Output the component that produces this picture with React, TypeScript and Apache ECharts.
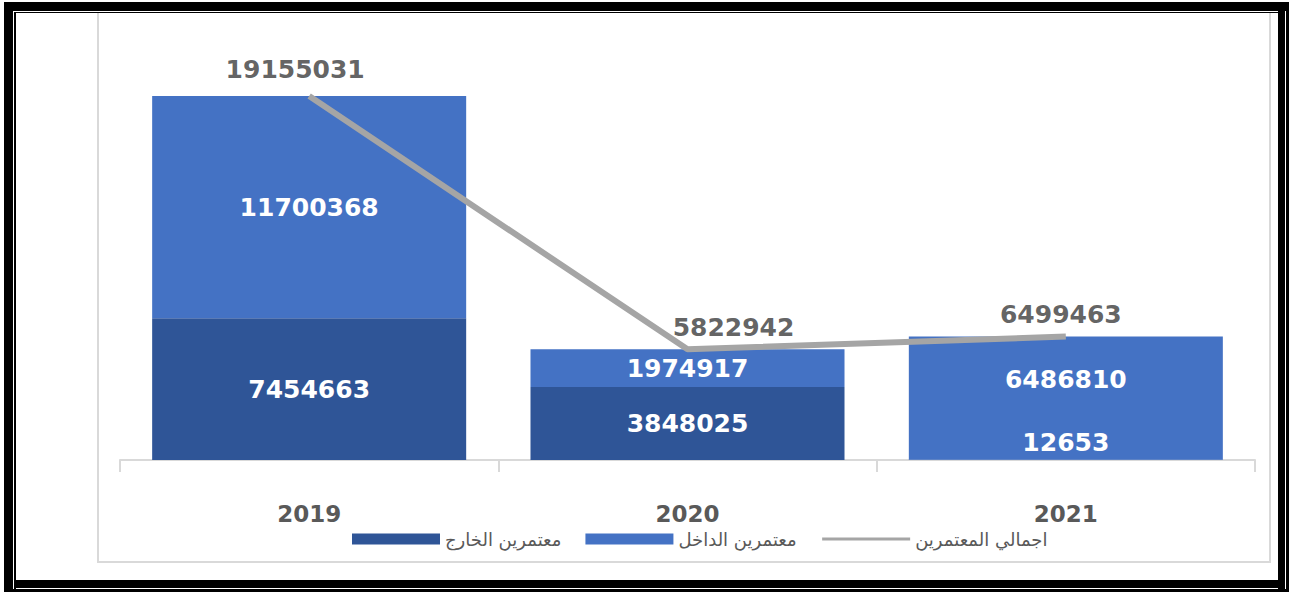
import React, { useEffect, useRef } from "react";
import * as echarts from "echarts";

const years = ["2019", "2020", "2021"];
const abroad = [7454663, 3848025, 12653];
const domestic = [11700368, 1974917, 6486810];
const total = [19155031, 5822942, 6499463];
const seriesNames = ["معتمرين الخارج", "معتمرين الداخل", "اجمالي المعتمرين"];

const DARK = "#2F5597";
const LIGHT = "#4472C4";
const LINE = "#A5A5A5";
const NUMFONT = "DejaVu Sans";

export default function App() {
  const ref = useRef<HTMLDivElement>(null);
  useEffect(() => {
    if (!ref.current) return;
    const chart = echarts.init(ref.current, null, { renderer: "svg" });
    const barLabel = {
      show: true,
      position: "inside",
      color: "#ffffff",
      fontFamily: NUMFONT,
      fontWeight: "bold",
      fontSize: 25,
    };
    const abroadData = abroad.map((v, i) =>
      i === 2 ? { value: v, label: { offset: [0, -17] } } : v
    );
    const domesticData = domestic.map((v, i) =>
      i === 2 ? { value: v, label: { offset: [0, -19] } } : v
    );
    const lineOffsets = [
      [-14, 0],
      [46, 5],
      [-5, 5],
    ];
    const totalLabelData = total.map((v, i) => ({
      value: v,
      label: { offset: lineOffsets[i] },
    }));
    const black = "#000000";
    const frame = [
      { type: "rect", shape: { x: 4, y: 2, width: 1285, height: 9 } },
      { type: "rect", shape: { x: 14, y: 12, width: 1264, height: 1 } },
      { type: "rect", shape: { x: 4, y: 2, width: 9, height: 590 } },
      { type: "rect", shape: { x: 14, y: 12, width: 2, height: 577 } },
      { type: "rect", shape: { x: 1278, y: 2, width: 7, height: 587 } },
      { type: "rect", shape: { x: 1286, y: 2, width: 3, height: 590 } },
      { type: "rect", shape: { x: 14, y: 580, width: 1271, height: 8 } },
      { type: "rect", shape: { x: 4, y: 589, width: 1285, height: 3 } },
    ].map((r) => ({ ...r, silent: true, style: { fill: black } }));

    chart.setOption({
      animation: false,
      backgroundColor: "#ffffff",
      graphic: [
        {
          type: "polyline",
          silent: true,
          shape: {
            points: [
              [98, 13],
              [98, 562],
              [1270, 562],
              [1270, 13],
            ],
          },
          style: { stroke: "#D9D9D9", lineWidth: 2, fill: null },
        },
        ...frame,
      ],
      grid: { left: 120, right: 36, top: 80, bottom: 133 },
      legend: {
        left: 352,
        top: 530,
        padding: 0,
        itemWidth: 88,
        itemHeight: 11,
        itemGap: 24,
        textStyle: { color: "#595959", fontSize: 18, fontFamily: "DejaVu Sans" },
        data: [
          { name: seriesNames[0], icon: "rect" },
          { name: seriesNames[1], icon: "rect" },
          {
            name: seriesNames[2],
            itemStyle: { opacity: 0 },
            lineStyle: { width: 3, color: LINE, opacity: 1 },
          },
        ],
      },
      xAxis: {
        type: "category",
        data: years,
        axisLine: { lineStyle: { color: "#D9D9D9", width: 2 } },
        axisTick: { show: true, length: 12, lineStyle: { color: "#D9D9D9", width: 2 } },
        axisLabel: {
          margin: 42,
          color: "#595959",
          fontFamily: NUMFONT,
          fontWeight: "bold",
          fontSize: 23,
        },
      },
      yAxis: {
        type: "value",
        min: 0,
        max: 20000000,
        show: false,
        splitLine: { show: false },
      },
      series: [
        {
          name: seriesNames[0],
          type: "bar",
          stack: "t",
          barCategoryGap: "17%",
          itemStyle: { color: DARK },
          label: barLabel,
          data: abroadData,
        },
        {
          name: seriesNames[1],
          type: "bar",
          stack: "t",
          barCategoryGap: "17%",
          itemStyle: { color: LIGHT },
          label: barLabel,
          data: domesticData,
        },
        {
          name: seriesNames[2],
          type: "line",
          symbol: "none",
          z: 5,
          lineStyle: { color: LINE, width: 6 },
          itemStyle: { color: LINE },
          data: total,
        },
        {
          name: "total-labels",
          type: "scatter",
          symbolSize: 1,
          z: 6,
          silent: true,
          itemStyle: { color: "rgba(0,0,0,0)" },
          label: {
            show: true,
            position: "top",
            distance: 14,
            color: "#3A3A3A",
            fontFamily: NUMFONT,
            fontWeight: "bold",
            fontSize: 25,
          },
          data: totalLabelData,
        },
      ],
    });
    return () => chart.dispose();
  }, []);
  return (
    <div
      ref={ref}
      style={{ position: "fixed", left: 0, top: 0, width: 1291, height: 593 }}
    />
  );
}
